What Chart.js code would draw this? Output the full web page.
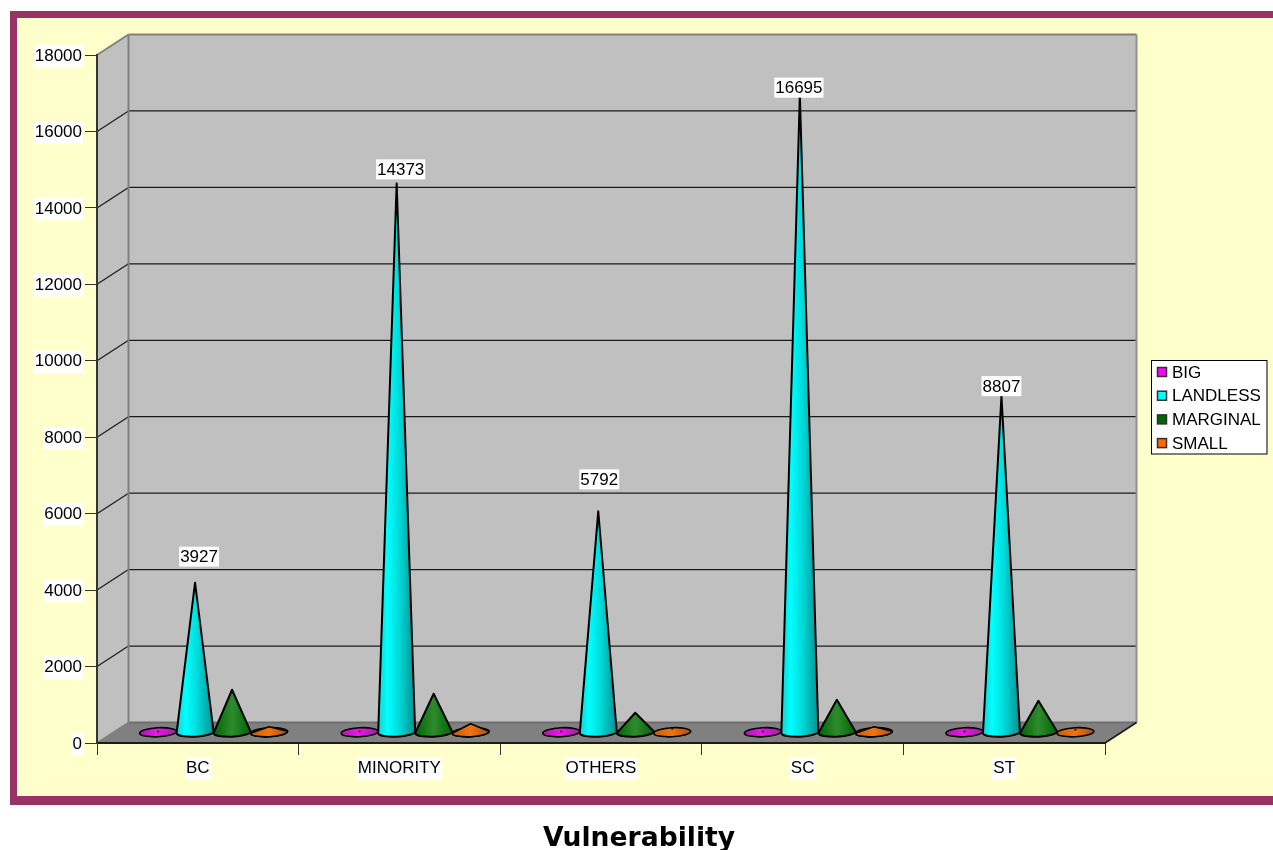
<!DOCTYPE html>
<html>
<head>
<meta charset="utf-8">
<title>Vulnerability</title>
<script src="https://cdn.jsdelivr.net/npm/chart.js@4"></script>
<style>
  html, body { margin: 0; padding: 0; background: #fff; }
  canvas { display: block; }
</style>
</head>
<body>
<canvas id="chart" width="1273" height="850"></canvas>
<script>
const categories = ["BC", "MINORITY", "OTHERS", "SC", "ST"];
const seriesNames = ["BIG", "LANDLESS", "MARGINAL", "SMALL"];
const bigValues = [30, 30, 30, 30, 30];
const landlessValues = [3927, 14373, 5792, 16695, 8807];
const marginalValues = [1125, 1020, 523, 863, 837];
const smallValues = [157, 235, 105, 157, 78];

const font = '"Liberation Sans", Arial, sans-serif';
const depthX = 31.5;
const depthY = -20.5;
const swatchColors = ["#ff00ff", "#00ffff", "#006600", "#ff6600"];
const coneStops = [
  [[0, "#a818a8"], [0.45, "#e818e8"], [1, "#a020a0"]],
  [[0, "#18d0d0"], [0.25, "#00ffff"], [0.55, "#00dcdc"], [1, "#009090"]],
  [[0, "#006600"], [0.5, "#2f8a2f"], [1, "#006600"]],
  [[0, "#c85c10"], [0.5, "#f07410"], [1, "#a85010"]],
];
// label offsets from the cone tip, as placed in the original
const labelNudge = [[4, -26], [4, -14], [1, -32], [-1, -7], [0, -10]];

function poly(ctx, pts, fill) {
  ctx.beginPath();
  pts.forEach((p, i) => (i ? ctx.lineTo(p[0], p[1]) : ctx.moveTo(p[0], p[1])));
  ctx.closePath();
  ctx.fillStyle = fill;
  ctx.fill();
}

function line(ctx, x1, y1, x2, y2, color, width) {
  ctx.beginPath();
  ctx.moveTo(x1, y1);
  ctx.lineTo(x2, y2);
  ctx.strokeStyle = color;
  ctx.lineWidth = width;
  ctx.stroke();
}

function drawCone(ctx, cx, tipY, baseY, r, stops) {
  const ry = 4.5;
  const tilt = -0.05;
  const height = baseY - tipY;
  const grad = ctx.createLinearGradient(cx - r, 0, cx + r, 0);
  stops.forEach((s) => grad.addColorStop(s[0], s[1]));
  const rx = cx + r * Math.cos(tilt);
  const rY = baseY + r * Math.sin(tilt);

  ctx.save();
  ctx.lineJoin = "round";
  ctx.strokeStyle = "#000";
  ctx.lineWidth = height < 10 ? 1.6 : 2;
  ctx.fillStyle = grad;
  if (height < 10) {
    // low cone: the back of the base still shows
    ctx.beginPath();
    ctx.ellipse(cx, baseY, r, ry, tilt, 0, Math.PI * 2);
    ctx.fill();
    ctx.stroke();
  }
  if (height < ry + 1) {
    ctx.beginPath();
    ctx.arc(cx, tipY, 1, 0, Math.PI * 2);
    ctx.fillStyle = "#000";
    ctx.fill();
  } else {
    ctx.beginPath();
    ctx.ellipse(cx, baseY, r, ry, tilt, 0, Math.PI);
    ctx.lineTo(cx, tipY);
    ctx.lineTo(rx, rY);
    ctx.closePath();
    ctx.fill();
    ctx.stroke();
  }
  ctx.restore();
}

const walls = {
  id: "walls",
  beforeDraw(chart) {
    const { ctx, chartArea: a, scales } = chart;
    const bx = depthX;
    const by = depthY;
    ctx.save();
    // page frame
    ctx.fillStyle = "#ffffff";
    ctx.fillRect(0, 0, chart.width, chart.height);
    ctx.fillStyle = "#993366";
    ctx.fillRect(10, 11, chart.width, 794);
    ctx.fillStyle = "#ffffcc";
    ctx.fillRect(17, 18, chart.width, 778);

    poly(ctx, [[a.left + bx, a.top + by], [a.right + bx, a.top + by], [a.right + bx, a.bottom + by], [a.left + bx, a.bottom + by]], "#c0c0c0");
    poly(ctx, [[a.left, a.top], [a.left + bx, a.top + by], [a.left + bx, a.bottom + by], [a.left, a.bottom]], "#c0c0c0");
    poly(ctx, [[a.left, a.bottom], [a.left + bx, a.bottom + by], [a.right + bx, a.bottom + by], [a.right, a.bottom]], "#808080");

    scales.y.ticks.forEach((t) => {
      if (t.value === 0 || t.value === scales.y.max) return;
      const y = scales.y.getPixelForValue(t.value);
      line(ctx, a.left, y, a.left + bx, y + by, "#1a1a1a", 1.2);
      line(ctx, a.left + bx, y + by, a.right + bx, y + by, "#1a1a1a", 1.2);
    });

    // wall edges
    line(ctx, a.left, a.top, a.left + bx, a.top + by, "#808080", 2);
    line(ctx, a.left + bx, a.top + by, a.right + bx, a.top + by, "#808080", 2);
    line(ctx, a.left + bx, a.top + by, a.left + bx, a.bottom + by, "#808080", 2);
    line(ctx, a.right + bx, a.top + by, a.right + bx, a.bottom + by, "#909090", 2);
    line(ctx, a.left + bx, a.bottom + by, a.right + bx, a.bottom + by, "#6e6e6e", 2);
    line(ctx, a.left, a.bottom, a.left + bx, a.bottom + by, "#808080", 1.5);
    line(ctx, a.right, a.bottom, a.right + bx, a.bottom + by, "#1a1a1a", 1.5);
    ctx.restore();

    // title is centred on the whole frame, not on the plot
    chart.titleBlock.left = 0;
    chart.titleBlock.right = 1278;
    chart.titleBlock.top = 823.4;
  },
};

const cones = {
  id: "cones",
  beforeDatasetsDraw(chart) {
    // left to right so each cone overlaps the previous one
    seriesNames.forEach((name, s) => {
      chart.getDatasetMeta(s).data.forEach((bar) => {
        drawCone(chart.ctx, bar.x + depthX / 2, bar.y + depthY / 2, bar.base + depthY / 2, bar.width / 2, coneStops[s]);
      });
    });
  },
  beforeDatasetDraw() {
    return false;
  },
  afterDatasetsDraw(chart) {
    const ctx = chart.ctx;
    const meta = chart.getDatasetMeta(1);
    ctx.save();
    ctx.font = "17px " + font;
    ctx.textAlign = "center";
    ctx.textBaseline = "middle";
    meta.data.forEach((bar, i) => {
      const text = String(landlessValues[i]);
      const x = bar.x + depthX / 2 + labelNudge[i][0];
      const y = bar.y + depthY / 2 + labelNudge[i][1];
      const w = ctx.measureText(text).width + 2;
      ctx.fillStyle = "#ffffff";
      ctx.fillRect(x - w / 2, y - 10, w, 20);
      ctx.fillStyle = "#000000";
      ctx.fillText(text, x, y + 1);
    });
    ctx.restore();
  },
  afterDraw(chart) {
    const ctx = chart.ctx;
    ctx.save();
    ctx.fillStyle = "#ffffff";
    ctx.fillRect(1152, 361, 115, 93);
    ctx.strokeStyle = "#000000";
    ctx.lineWidth = 1;
    ctx.strokeRect(1151.5, 360.5, 115.5, 93.5);
    ctx.font = "17px " + font;
    ctx.textBaseline = "middle";
    seriesNames.forEach((name, i) => {
      const y = 372 + i * 23.7;
      ctx.fillStyle = swatchColors[i];
      ctx.fillRect(1157.5, y - 4.5, 9, 9);
      ctx.strokeStyle = "#303030";
      ctx.lineWidth = 1.5;
      ctx.strokeRect(1157.5, y - 4.5, 9, 9);
      ctx.fillStyle = "#000000";
      ctx.fillText(name, 1172, y + 1);
    });
    ctx.restore();
  },
};

new Chart(document.getElementById("chart"), {
  type: "bar",
  data: {
    labels: categories,
    datasets: [
      { label: seriesNames[0], data: bigValues, backgroundColor: swatchColors[0] },
      { label: seriesNames[1], data: landlessValues, backgroundColor: swatchColors[1] },
      { label: seriesNames[2], data: marginalValues, backgroundColor: swatchColors[2] },
      { label: seriesNames[3], data: smallValues, backgroundColor: swatchColors[3] },
    ],
  },
  plugins: [walls, cones],
  options: {
    responsive: false,
    animation: false,
    layout: { padding: { left: 0, right: 168, top: 55, bottom: 0 } },
    datasets: { bar: { categoryPercentage: 0.734, barPercentage: 1 } },
    plugins: {
      legend: { display: false },
      tooltip: { enabled: false },
      title: {
        display: true,
        position: "bottom",
        text: "Vulnerability",
        color: "#000000",
        padding: { top: 2, bottom: 0 },
        font: { family: '"DejaVu Sans", Verdana, sans-serif', size: 26.6, weight: "bold", lineHeight: 1 },
      },
    },
    scales: {
      x: {
        afterFit(scale) { scale.height = 78.4; },
        border: { color: "#1a1a1a", width: 2 },
        grid: { drawOnChartArea: false, drawTicks: true, tickLength: 12, color: "#333333" },
        ticks: {
          color: "#000000",
          padding: 3,
          maxRotation: 0,
          font: { family: font, size: 17 },
          showLabelBackdrop: true,
          backdropColor: "#ffffff",
          backdropPadding: 1,
        },
      },
      y: {
        min: 0,
        max: 18000,
        afterFit(scale) { scale.width = 97; },
        border: { color: "#333333", width: 2 },
        grid: { drawOnChartArea: false, drawTicks: true, tickLength: 12, color: "#333333" },
        ticks: {
          stepSize: 2000,
          color: "#000000",
          padding: 3,
          labelOffset: 1,
          font: { family: font, size: 17 },
          showLabelBackdrop: true,
          backdropColor: "#ffffff",
          backdropPadding: 1,
          callback: (value) => String(value),
        },
      },
    },
  },
});
</script>
</body>
</html>
